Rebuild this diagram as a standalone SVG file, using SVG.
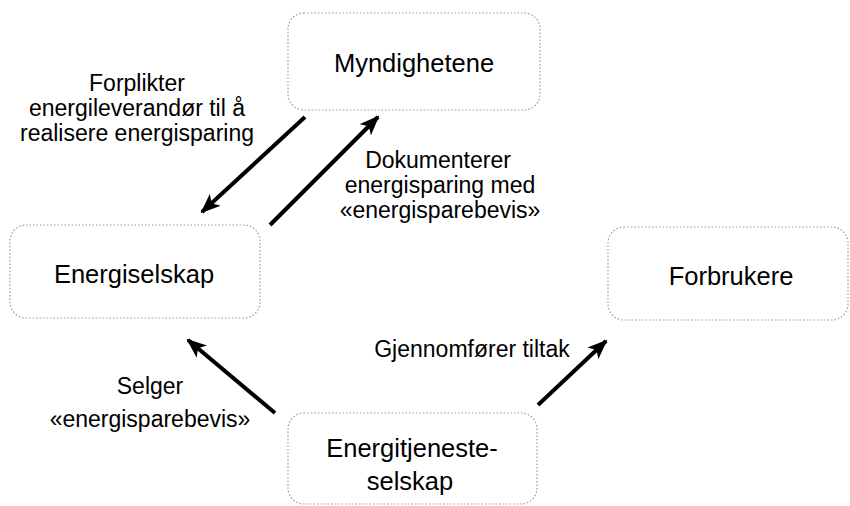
<svg xmlns="http://www.w3.org/2000/svg" width="850" height="506" viewBox="0 0 850 506">
<style>
.box{fill:#fff;stroke:#9a9a9a;stroke-width:1.2;stroke-dasharray:1.5 2}
.nt{font-family:"Liberation Sans",Arial,sans-serif;font-size:25.5px;fill:#000;text-anchor:middle}
.lt{font-family:"Liberation Sans",Arial,sans-serif;font-size:23px;fill:#000;text-anchor:middle}
.ar{stroke:#000;stroke-width:4;fill:none;marker-end:url(#ah)}
</style>
<defs>
<marker id="ah" markerUnits="userSpaceOnUse" markerWidth="20" markerHeight="16" viewBox="0 0 20 16" refX="18" refY="8" orient="auto">
<path d="M0,0 L20,8 L0,16 L5,8 Z" fill="#000"/>
</marker>
</defs>
<rect width="850" height="506" fill="#fff"/>
<g id="myndighetene">
<rect class="box" x="288" y="13" width="252" height="97" rx="16"/>
<text class="nt" x="414" y="72">Myndighetene</text>
</g>
<g id="energiselskap">
<rect class="box" x="10" y="225" width="250" height="93" rx="16"/>
<text class="nt" x="134" y="283">Energiselskap</text>
</g>
<g id="forbrukere">
<rect class="box" x="608" y="227" width="240" height="93" rx="16"/>
<text class="nt" x="731" y="285">Forbrukere</text>
</g>
<g id="energitjenesteselskap">
<rect class="box" x="288" y="413" width="249" height="91" rx="16"/>
<text class="nt" x="412" y="457">Energitjeneste-</text>
<text class="nt" x="410" y="490">selskap</text>
</g>
<g id="connectors">
<line class="ar" x1="305" y1="117" x2="202" y2="212"/>
<line class="ar" x1="270" y1="225" x2="378" y2="117"/>
<line class="ar" x1="275" y1="413" x2="188" y2="340"/>
<line class="ar" x1="538" y1="405" x2="606" y2="341"/>
</g>
<g id="labels">
<text class="lt" x="137" y="91">Forplikter</text>
<text class="lt" x="137" y="116">energileverandør til å</text>
<text class="lt" x="137" y="141">realisere energisparing</text>
<text class="lt" x="438" y="168">Dokumenterer</text>
<text class="lt" x="440" y="193">energisparing med</text>
<text class="lt" x="440" y="218">«energisparebevis»</text>
<text class="lt" x="472" y="357">Gjennomfører tiltak</text>
<text class="lt" x="150" y="394">Selger</text>
<text class="lt" x="150" y="427">«energisparebevis»</text>
</g>
</svg>
